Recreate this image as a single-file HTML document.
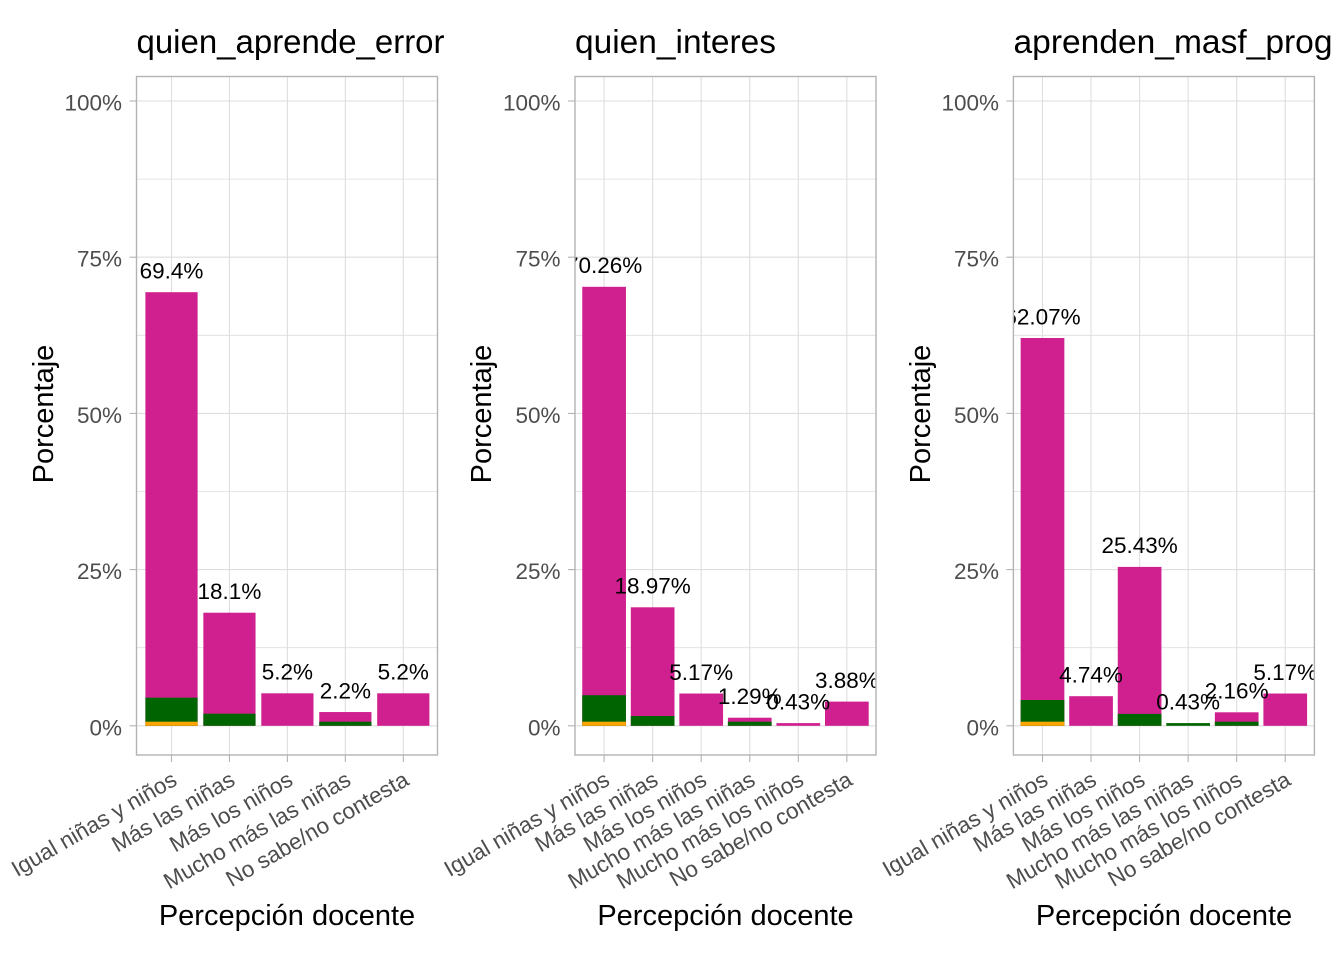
<!DOCTYPE html>
<html>
<head>
<meta charset="utf-8">
<style>
html,body{margin:0;padding:0;background:#fff;}
svg{display:block;}
text{font-family:"Liberation Sans",Arial,sans-serif;}
.tick{font-size:22.5px;fill:#4D4D4D;}
.lab{font-size:22.5px;fill:#000;text-anchor:middle;}
.ttl{font-size:33px;fill:#000;}
.axt{font-size:29px;fill:#000;text-anchor:middle;}
.maj{stroke:#DEDEDE;stroke-width:1.1;}
.min{stroke:#DEDEDE;stroke-width:0.8;}
.tk{stroke:#B3B3B3;stroke-width:1.1;}
</style>
</head>
<body>
<svg width="1344" height="960" viewBox="0 0 1344 960" xmlns="http://www.w3.org/2000/svg">
<defs>
<clipPath id="c1"><rect x="136.5" y="76.5" width="301" height="678.5"/></clipPath>
<clipPath id="c2"><rect x="575" y="76.5" width="301" height="678.5"/></clipPath>
<clipPath id="c3"><rect x="1013.4" y="76.5" width="301" height="678.5"/></clipPath>
</defs>
<rect width="1344" height="960" fill="#fff"/>

<!-- ================= PANEL 1 ================= -->
<g>
<text class="ttl" x="136.5" y="53" textLength="308" lengthAdjust="spacingAndGlyphs">quien_aprende_error</text>
<g class="min">
<line x1="136.5" x2="437.5" y1="647.7" y2="647.7"/>
<line x1="136.5" x2="437.5" y1="491.5" y2="491.5"/>
<line x1="136.5" x2="437.5" y1="335.3" y2="335.3"/>
<line x1="136.5" x2="437.5" y1="179.1" y2="179.1"/>
</g>
<g class="maj">
<line x1="136.5" x2="437.5" y1="725.8" y2="725.8"/>
<line x1="136.5" x2="437.5" y1="569.6" y2="569.6"/>
<line x1="136.5" x2="437.5" y1="413.4" y2="413.4"/>
<line x1="136.5" x2="437.5" y1="257.2" y2="257.2"/>
<line x1="136.5" x2="437.5" y1="101" y2="101"/>
<line x1="171.5" x2="171.5" y1="76.5" y2="755"/>
<line x1="229.45" x2="229.45" y1="76.5" y2="755"/>
<line x1="287.4" x2="287.4" y1="76.5" y2="755"/>
<line x1="345.35" x2="345.35" y1="76.5" y2="755"/>
<line x1="403.3" x2="403.3" y1="76.5" y2="755"/>
</g>
<rect x="145.4" y="292.2" width="52.2" height="433.6" fill="#D02090"/>
<rect x="145.4" y="697.7" width="52.2" height="28.1" fill="#006400"/>
<rect x="145.4" y="721.7" width="52.2" height="4.1" fill="#FFA500"/>
<rect x="203.35" y="612.7" width="52.2" height="113.1" fill="#D02090"/>
<rect x="203.35" y="713.7" width="52.2" height="12.1" fill="#006400"/>
<rect x="261.3" y="693.3" width="52.2" height="32.5" fill="#D02090"/>
<rect x="319.25" y="712.05" width="52.2" height="13.75" fill="#D02090"/>
<rect x="319.25" y="721.7" width="52.2" height="4.1" fill="#006400"/>
<rect x="377.2" y="693.3" width="52.2" height="32.5" fill="#D02090"/>
<g clip-path="url(#c1)">
<text class="lab" x="171.5" y="278.5">69.4%</text>
<text class="lab" x="229.45" y="599">18.1%</text>
<text class="lab" x="287.4" y="679.5">5.2%</text>
<text class="lab" x="345.35" y="698.3">2.2%</text>
<text class="lab" x="403.3" y="679.5">5.2%</text>
</g>
<rect x="136.5" y="76.5" width="301" height="678.5" fill="none" stroke="#B3B3B3" stroke-width="1.4"/>
<g class="tk">
<line x1="129.5" x2="136.5" y1="725.8" y2="725.8"/>
<line x1="129.5" x2="136.5" y1="569.6" y2="569.6"/>
<line x1="129.5" x2="136.5" y1="413.4" y2="413.4"/>
<line x1="129.5" x2="136.5" y1="257.2" y2="257.2"/>
<line x1="129.5" x2="136.5" y1="101" y2="101"/>
<line x1="171.5" x2="171.5" y1="755" y2="762"/>
<line x1="229.45" x2="229.45" y1="755" y2="762"/>
<line x1="287.4" x2="287.4" y1="755" y2="762"/>
<line x1="345.35" x2="345.35" y1="755" y2="762"/>
<line x1="403.3" x2="403.3" y1="755" y2="762"/>
</g>
<g class="tick" text-anchor="end">
<text x="122" y="735.3">0%</text>
<text x="122" y="579.1">25%</text>
<text x="122" y="422.9">50%</text>
<text x="122" y="266.7">75%</text>
<text x="122" y="110.5">100%</text>
</g>
<g class="tick" text-anchor="end">
<text transform="translate(178.5,784) rotate(-30)">Igual niñas y niños</text>
<text transform="translate(236.45,784) rotate(-30)">Más las niñas</text>
<text transform="translate(294.4,784) rotate(-30)">Más los niños</text>
<text transform="translate(352.35,784) rotate(-30)">Mucho más las niñas</text>
<text transform="translate(410.3,784) rotate(-30)">No sabe/no contesta</text>
</g>
<text class="axt" x="287" y="925">Percepción docente</text>
<text class="axt" transform="translate(53,414) rotate(-90)">Porcentaje</text>
</g>

<!-- ================= PANEL 2 ================= -->
<g>
<text class="ttl" x="575" y="53" textLength="201" lengthAdjust="spacingAndGlyphs">quien_interes</text>
<g class="min">
<line x1="575" x2="876" y1="647.7" y2="647.7"/>
<line x1="575" x2="876" y1="491.5" y2="491.5"/>
<line x1="575" x2="876" y1="335.3" y2="335.3"/>
<line x1="575" x2="876" y1="179.1" y2="179.1"/>
</g>
<g class="maj">
<line x1="575" x2="876" y1="725.8" y2="725.8"/>
<line x1="575" x2="876" y1="569.6" y2="569.6"/>
<line x1="575" x2="876" y1="413.4" y2="413.4"/>
<line x1="575" x2="876" y1="257.2" y2="257.2"/>
<line x1="575" x2="876" y1="101" y2="101"/>
<line x1="604.1" x2="604.1" y1="76.5" y2="755"/>
<line x1="652.65" x2="652.65" y1="76.5" y2="755"/>
<line x1="701.2" x2="701.2" y1="76.5" y2="755"/>
<line x1="749.75" x2="749.75" y1="76.5" y2="755"/>
<line x1="798.3" x2="798.3" y1="76.5" y2="755"/>
<line x1="846.85" x2="846.85" y1="76.5" y2="755"/>
</g>
<rect x="582.25" y="286.8" width="43.7" height="439" fill="#D02090"/>
<rect x="582.25" y="695.2" width="43.7" height="30.6" fill="#006400"/>
<rect x="582.25" y="721.7" width="43.7" height="4.1" fill="#FFA500"/>
<rect x="630.8" y="607.3" width="43.7" height="118.5" fill="#D02090"/>
<rect x="630.8" y="716" width="43.7" height="9.8" fill="#006400"/>
<rect x="679.35" y="693.5" width="43.7" height="32.3" fill="#D02090"/>
<rect x="727.9" y="717.7" width="43.7" height="8.1" fill="#D02090"/>
<rect x="727.9" y="721.7" width="43.7" height="4.1" fill="#006400"/>
<rect x="776.45" y="723.1" width="43.7" height="2.7" fill="#D02090"/>
<rect x="825" y="701.6" width="43.7" height="24.2" fill="#D02090"/>
<g clip-path="url(#c2)">
<text class="lab" x="604.1" y="273.2">70.26%</text>
<text class="lab" x="652.65" y="593.6">18.97%</text>
<text class="lab" x="701.2" y="679.8">5.17%</text>
<text class="lab" x="749.75" y="704">1.29%</text>
<text class="lab" x="798.3" y="709.4">0.43%</text>
<text class="lab" x="846.85" y="687.9">3.88%</text>
</g>
<rect x="575" y="76.5" width="301" height="678.5" fill="none" stroke="#B3B3B3" stroke-width="1.4"/>
<g class="tk">
<line x1="568" x2="575" y1="725.8" y2="725.8"/>
<line x1="568" x2="575" y1="569.6" y2="569.6"/>
<line x1="568" x2="575" y1="413.4" y2="413.4"/>
<line x1="568" x2="575" y1="257.2" y2="257.2"/>
<line x1="568" x2="575" y1="101" y2="101"/>
<line x1="604.1" x2="604.1" y1="755" y2="762"/>
<line x1="652.65" x2="652.65" y1="755" y2="762"/>
<line x1="701.2" x2="701.2" y1="755" y2="762"/>
<line x1="749.75" x2="749.75" y1="755" y2="762"/>
<line x1="798.3" x2="798.3" y1="755" y2="762"/>
<line x1="846.85" x2="846.85" y1="755" y2="762"/>
</g>
<g class="tick" text-anchor="end">
<text x="560.5" y="735.3">0%</text>
<text x="560.5" y="579.1">25%</text>
<text x="560.5" y="422.9">50%</text>
<text x="560.5" y="266.7">75%</text>
<text x="560.5" y="110.5">100%</text>
</g>
<g class="tick" text-anchor="end">
<text transform="translate(611.1,784) rotate(-30)">Igual niñas y niños</text>
<text transform="translate(659.65,784) rotate(-30)">Más las niñas</text>
<text transform="translate(708.2,784) rotate(-30)">Más los niños</text>
<text transform="translate(756.75,784) rotate(-30)">Mucho más las niñas</text>
<text transform="translate(805.3,784) rotate(-30)">Mucho más los niños</text>
<text transform="translate(853.85,784) rotate(-30)">No sabe/no contesta</text>
</g>
<text class="axt" x="725.5" y="925">Percepción docente</text>
<text class="axt" transform="translate(491,414) rotate(-90)">Porcentaje</text>
</g>

<!-- ================= PANEL 3 ================= -->
<g>
<text class="ttl" x="1013.5" y="53" textLength="319" lengthAdjust="spacingAndGlyphs">aprenden_masf_prog</text>
<g class="min">
<line x1="1013.4" x2="1314.4" y1="647.7" y2="647.7"/>
<line x1="1013.4" x2="1314.4" y1="491.5" y2="491.5"/>
<line x1="1013.4" x2="1314.4" y1="335.3" y2="335.3"/>
<line x1="1013.4" x2="1314.4" y1="179.1" y2="179.1"/>
</g>
<g class="maj">
<line x1="1013.4" x2="1314.4" y1="725.8" y2="725.8"/>
<line x1="1013.4" x2="1314.4" y1="569.6" y2="569.6"/>
<line x1="1013.4" x2="1314.4" y1="413.4" y2="413.4"/>
<line x1="1013.4" x2="1314.4" y1="257.2" y2="257.2"/>
<line x1="1013.4" x2="1314.4" y1="101" y2="101"/>
<line x1="1042.5" x2="1042.5" y1="76.5" y2="755"/>
<line x1="1091.05" x2="1091.05" y1="76.5" y2="755"/>
<line x1="1139.6" x2="1139.6" y1="76.5" y2="755"/>
<line x1="1188.15" x2="1188.15" y1="76.5" y2="755"/>
<line x1="1236.7" x2="1236.7" y1="76.5" y2="755"/>
<line x1="1285.25" x2="1285.25" y1="76.5" y2="755"/>
</g>
<rect x="1020.65" y="338" width="43.7" height="387.8" fill="#D02090"/>
<rect x="1020.65" y="700" width="43.7" height="25.8" fill="#006400"/>
<rect x="1020.65" y="721.7" width="43.7" height="4.1" fill="#FFA500"/>
<rect x="1069.2" y="696.2" width="43.7" height="29.6" fill="#D02090"/>
<rect x="1117.75" y="566.9" width="43.7" height="158.9" fill="#D02090"/>
<rect x="1117.75" y="713.9" width="43.7" height="11.9" fill="#006400"/>
<rect x="1166.3" y="723.1" width="43.7" height="2.7" fill="#006400"/>
<rect x="1214.85" y="712.3" width="43.7" height="13.5" fill="#D02090"/>
<rect x="1214.85" y="721.7" width="43.7" height="4.1" fill="#006400"/>
<rect x="1263.4" y="693.5" width="43.7" height="32.3" fill="#D02090"/>
<g clip-path="url(#c3)">
<text class="lab" x="1042.5" y="324.3">62.07%</text>
<text class="lab" x="1091.05" y="682.5">4.74%</text>
<text class="lab" x="1139.6" y="553.2">25.43%</text>
<text class="lab" x="1188.15" y="709.4">0.43%</text>
<text class="lab" x="1236.7" y="698.6">2.16%</text>
<text class="lab" x="1285.25" y="679.8">5.17%</text>
</g>
<rect x="1013.4" y="76.5" width="301" height="678.5" fill="none" stroke="#B3B3B3" stroke-width="1.4"/>
<g class="tk">
<line x1="1006.4" x2="1013.4" y1="725.8" y2="725.8"/>
<line x1="1006.4" x2="1013.4" y1="569.6" y2="569.6"/>
<line x1="1006.4" x2="1013.4" y1="413.4" y2="413.4"/>
<line x1="1006.4" x2="1013.4" y1="257.2" y2="257.2"/>
<line x1="1006.4" x2="1013.4" y1="101" y2="101"/>
<line x1="1042.5" x2="1042.5" y1="755" y2="762"/>
<line x1="1091.05" x2="1091.05" y1="755" y2="762"/>
<line x1="1139.6" x2="1139.6" y1="755" y2="762"/>
<line x1="1188.15" x2="1188.15" y1="755" y2="762"/>
<line x1="1236.7" x2="1236.7" y1="755" y2="762"/>
<line x1="1285.25" x2="1285.25" y1="755" y2="762"/>
</g>
<g class="tick" text-anchor="end">
<text x="999" y="735.3">0%</text>
<text x="999" y="579.1">25%</text>
<text x="999" y="422.9">50%</text>
<text x="999" y="266.7">75%</text>
<text x="999" y="110.5">100%</text>
</g>
<g class="tick" text-anchor="end">
<text transform="translate(1049.5,784) rotate(-30)">Igual niñas y niños</text>
<text transform="translate(1098.05,784) rotate(-30)">Más las niñas</text>
<text transform="translate(1146.6,784) rotate(-30)">Más los niños</text>
<text transform="translate(1195.15,784) rotate(-30)">Mucho más las niñas</text>
<text transform="translate(1243.7,784) rotate(-30)">Mucho más los niños</text>
<text transform="translate(1292.25,784) rotate(-30)">No sabe/no contesta</text>
</g>
<text class="axt" x="1164" y="925">Percepción docente</text>
<text class="axt" transform="translate(930,414) rotate(-90)">Porcentaje</text>
</g>
</svg>
</body>
</html>
